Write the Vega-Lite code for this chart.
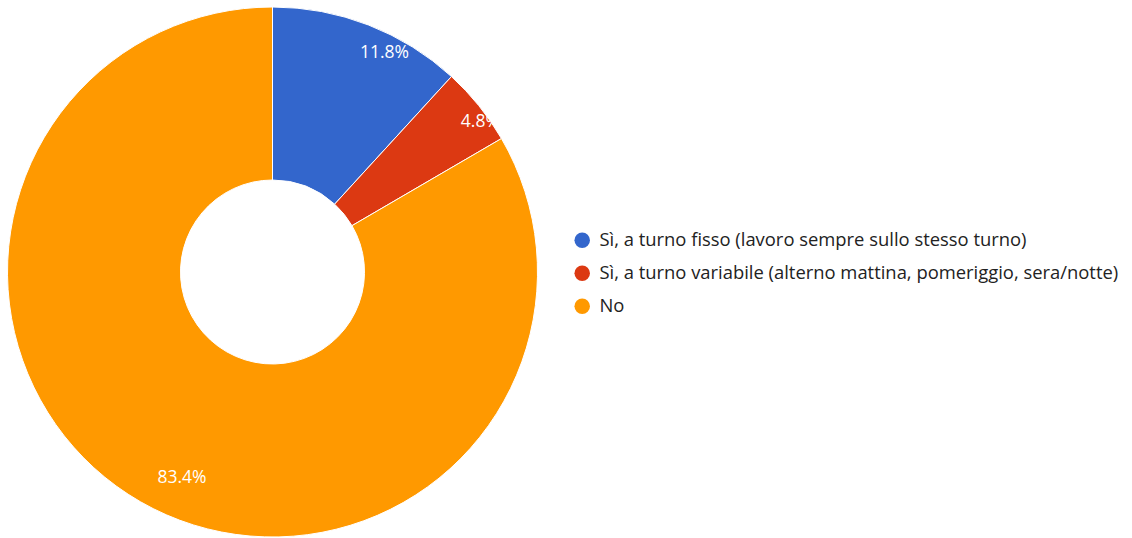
{
  "$schema": "https://vega.github.io/schema/vega-lite/v6.json",
  "width": 545,
  "height": 544,
  "padding": 0,
  "autosize": {"type": "pad"},
  "background": "white",
  "data": {"values": [
    {"answer": "Sì, a turno fisso (lavoro sempre sullo stesso turno)", "pct": 11.8, "order": 1, "label": "11.8%"},
    {"answer": "Sì, a turno variabile (alterno mattina, pomeriggio, sera/notte)", "pct": 4.8, "order": 2, "label": "4.8%"},
    {"answer": "No", "pct": 83.4, "order": 3, "label": "83.4%"}
  ]},
  "encoding": {
    "theta": {"field": "pct", "type": "quantitative", "stack": true},
    "order": {"field": "order", "type": "quantitative"}
  },
  "layer": [
    {
      "mark": {"type": "arc", "outerRadius": 265, "innerRadius": 92, "stroke": "white", "strokeWidth": 1},
      "encoding": {
        "color": {
          "field": "answer", "type": "nominal",
          "sort": {"field": "order"},
          "scale": {
            "domain": ["Sì, a turno fisso (lavoro sempre sullo stesso turno)", "Sì, a turno variabile (alterno mattina, pomeriggio, sera/notte)", "No"],
            "range": ["#3366CC", "#DC3912", "#FF9900"]
          },
          "legend": {
            "title": null, "orient": "none", "legendX": 573, "legendY": 231,
            "symbolType": "circle", "symbolSize": 240, "symbolStrokeWidth": 0,
            "labelFont": "Open Sans", "labelFontSize": 18.4, "labelColor": "#222222",
            "rowPadding": 14, "labelOffset": 8, "labelLimit": 700
          }
        }
      }
    },
    {
      "mark": {"type": "text", "radius": 240, "color": "white", "font": "Open Sans", "fontSize": 17.5, "dx": 25, "dy": 5},
      "encoding": {"text": {"condition": {"test": "datum.order == 1", "field": "label"}, "value": ""}}
    },
    {
      "mark": {"type": "text", "radius": 240, "color": "white", "font": "Open Sans", "fontSize": 17.5, "dx": 21, "dy": 1},
      "encoding": {"text": {"condition": {"test": "datum.order == 2", "field": "label"}, "value": ""}}
    },
    {
      "mark": {"type": "text", "radius": 240, "color": "white", "font": "Open Sans", "fontSize": 17.5, "dx": 29, "dy": -2},
      "encoding": {"text": {"condition": {"test": "datum.order == 3", "field": "label"}, "value": ""}}
    }
  ]
}
